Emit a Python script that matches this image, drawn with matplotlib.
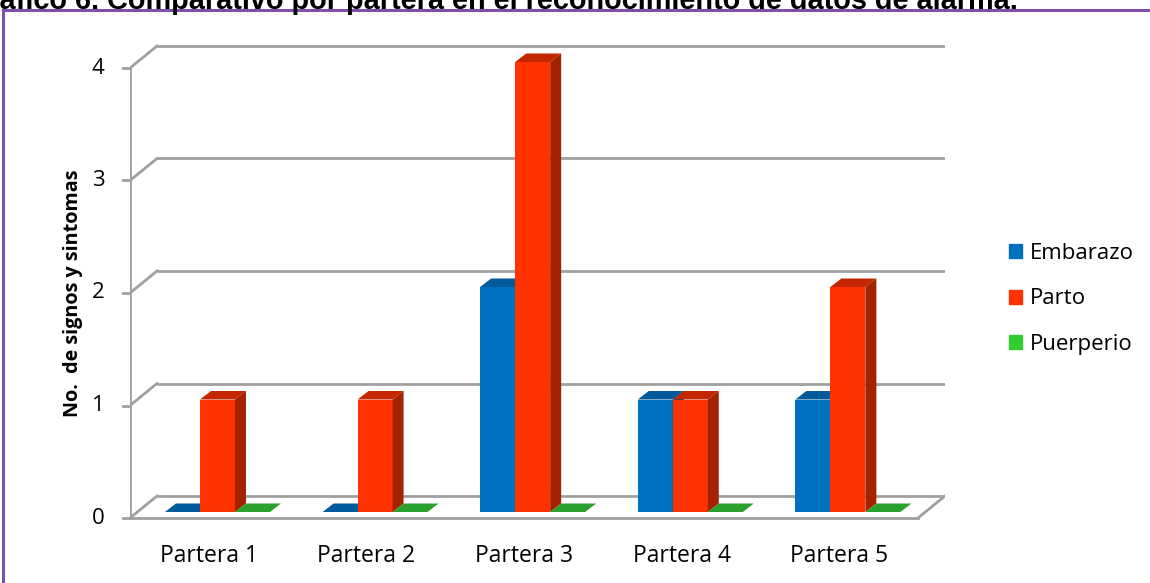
import matplotlib.pyplot as plt
from matplotlib.patches import Polygon
from matplotlib.lines import Line2D
import numpy as np

# data
categories = ['Partera 1', 'Partera 2', 'Partera 3', 'Partera 4', 'Partera 5']
series = ['Embarazo', 'Parto', 'Puerperio']
embarazo = [0, 0, 2, 1, 1]
parto = [1, 1, 4, 1, 2]
puerperio = [0, 0, 0, 0, 0]
yticks = [0, 1, 2, 3, 4]

front = ['#0070C0', '#FF3300', '#33CC33']
top_c = ['#005A9C', '#C42600', '#2CA02C']
side_c = ['#004F88', '#A52200', '#238A23']

plt.rcParams['font.family'] = ['Open Sans', 'DejaVu Sans']

W, H = 1150, 583
fig = plt.figure(figsize=(W / 100, H / 100), dpi=100)

# axes placed in pixel terms of the plot box
x0, x1, y0, y1 = 130, 945, 518, 40
ax = fig.add_axes([x0 / W, 1 - y0 / H, (x1 - x0) / W, (y0 - y1) / H])
px_x = 157.6  # px per category
px_y = 112.5  # px per unit
ax.set_xlim(-0.5, -0.5 + (x1 - x0) / px_x)
ax.set_ylim(0, (y0 - y1) / px_y)
ax.axis('off')

n = len(categories)
xr = -0.5 + n
wall_dx, wall_dy = 27 / px_x, 22 / px_y
grid = '#A0A0A0'

# back wall gridlines and left wall diagonals
for v in yticks:
    ax.plot([-0.5 + wall_dx, xr + wall_dx], [v + wall_dy, v + wall_dy], color=grid, lw=2, zorder=1,
            solid_capstyle='butt')
    ax.plot([-0.5, -0.5 + wall_dx], [v, v + wall_dy], color=grid, lw=2, zorder=1)
    ax.plot([-0.5 - 7 / px_x, -0.5], [v, v], color=grid, lw=2, zorder=1, clip_on=False)
    ax.text(-0.5 - 32 / px_x, v, str(v), ha='center', va='center', fontsize=16, color='#000000')
# front axis and floor
ax.plot([-0.5, -0.5], [0, yticks[-1]], color=grid, lw=2, zorder=1)
ax.plot([-0.5, xr], [0, 0], color=grid, lw=2, zorder=1, clip_on=False)
ax.plot([xr, xr + wall_dx], [0, wall_dy], color=grid, lw=2, zorder=1)

# bars
bw = 35 / px_x
bdx, bdy = 11 / px_x, 8.5 / px_y
base = 6 / px_y
shift = 0.055
vals = [embarazo, parto, puerperio]
for s, data in enumerate(vals):
    xs = np.arange(n) + shift + (s - 1) * bw
    ax.bar(xs, data, width=bw, bottom=base, color=front[s], edgecolor='none', zorder=3 + s)
    for x, v in zip(xs, data):
        l, r, t = x - bw / 2, x + bw / 2, base + v
        ax.add_patch(Polygon([(l, t), (r, t), (r + bdx, t + bdy), (l + bdx, t + bdy)],
                             closed=True, color=top_c[s], lw=0, zorder=3 + s))
        if v > 0:
            ax.add_patch(Polygon([(r, base), (r + bdx, base + bdy), (r + bdx, t + bdy), (r, t)],
                                 closed=True, color=side_c[s], lw=0, zorder=3 + s))

for i, c in enumerate(categories):
    ax.text(i, -0.335, c, ha='center', va='center', fontsize=16.5, color='#000000')

ax.text(-0.5 - 57 / px_x, 2.0, 'No.  de signos y sintomas', rotation=90, ha='center', va='center',
        fontsize=14.2, fontweight='bold', color='#000000')

# legend
handles = [plt.Rectangle((0, 0), 1, 1, color=c) for c in front]
fig.legend(handles, series, loc='center left', bbox_to_anchor=(998 / W, 1 - 299 / H),
           frameon=False, fontsize=16, handlelength=0.6, handleheight=0.6,
           handletextpad=0.35, labelspacing=1.1, borderpad=0)

# frame and clipped title
fig.add_artist(Line2D([3 / W, 1], [1 - 10 / H, 1 - 10 / H], color='#7F4FB0', lw=2.2))
fig.add_artist(Line2D([3 / W, 3 / W], [0, 1 - 10 / H], color='#7F4FB0', lw=2.2))
fig.text(1018 / W, 1 - 9 / H, 'Gráfico 6. Comparativo por partera en el reconocimiento de datos de alarma.',
         ha='right', va='baseline', fontsize=20.8, fontweight='bold',
         family=['Liberation Sans', 'DejaVu Sans'])

fig.savefig('out.png', dpi=100)
